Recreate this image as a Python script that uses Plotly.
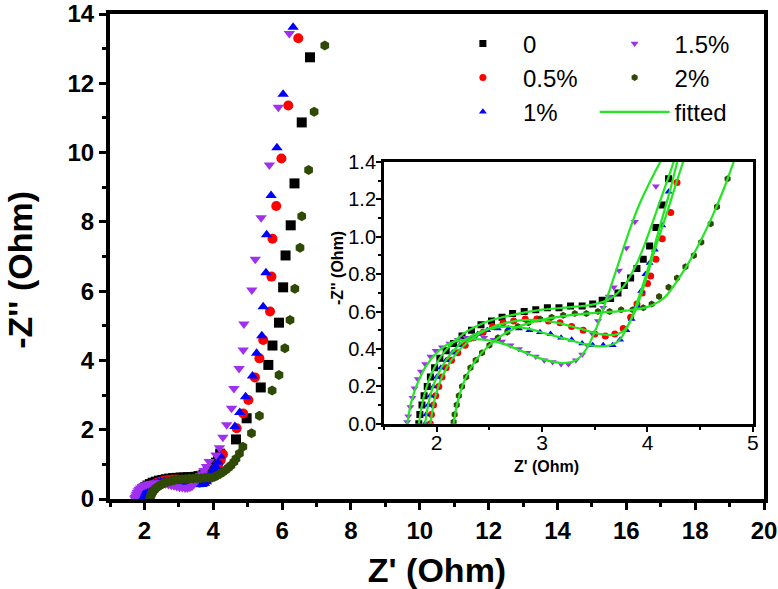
import plotly.graph_objects as go

# ---------------- data (Z' , -Z'' in Ohm) ----------------
labels = ["0", "0.5%", "1%", "1.5%", "2%"]
colors = ["#000000", "#FF0000", "#0000FF", "#A030F0", "#2F4A05"]
symbols = ["square", "circle", "triangle-up", "triangle-down", "hexagon"]

zre_0 = [1.83, 1.84, 1.86, 1.88, 1.91, 1.94, 1.98, 2.03, 2.09, 2.16, 2.24, 2.33, 2.42, 2.52, 2.62,
         2.72, 2.83, 2.94, 3.05, 3.16, 3.27, 3.38, 3.48, 3.57, 3.65, 3.72, 3.78, 3.84, 3.90, 3.96,
         4.02, 4.08, 4.14, 4.20, 4.66, 4.97, 5.38, 5.60, 5.72, 5.91, 6.03, 6.10, 6.25, 6.36, 6.57, 6.81]
zim_0 = [0.00, 0.05, 0.10, 0.15, 0.20, 0.25, 0.30, 0.35, 0.39, 0.43, 0.47, 0.50, 0.53, 0.55, 0.57,
         0.59, 0.60, 0.61, 0.62, 0.62, 0.63, 0.63, 0.64, 0.66, 0.67, 0.70, 0.74, 0.78, 0.83, 0.88,
         0.95, 1.05, 1.17, 1.31, 1.72, 2.33, 3.22, 3.87, 4.43, 5.09, 6.11, 7.03, 7.90, 9.11, 10.87, 12.75]

zre_05 = [1.94, 1.95, 1.97, 1.99, 2.02, 2.05, 2.09, 2.14, 2.20, 2.27, 2.35, 2.44, 2.53, 2.63, 2.73,
          2.84, 2.95, 3.06, 3.17, 3.28, 3.39, 3.50, 3.60, 3.69, 3.77, 3.84, 3.90, 3.95, 4.00, 4.03,
          4.08, 4.14, 4.22, 4.28, 4.68, 4.87, 5.02, 5.21, 5.34, 5.45, 5.65, 5.69, 5.72, 5.83, 5.98, 6.18, 6.47]
zim_05 = [0.00, 0.05, 0.10, 0.15, 0.20, 0.25, 0.30, 0.34, 0.38, 0.42, 0.46, 0.49, 0.52, 0.54, 0.55,
          0.56, 0.56, 0.55, 0.54, 0.52, 0.50, 0.48, 0.47, 0.48, 0.51, 0.57, 0.64, 0.70, 0.75, 0.79,
          0.88, 0.99, 1.13, 1.29, 2.04, 2.47, 2.86, 3.51, 4.06, 4.59, 5.41, 6.42, 7.51, 8.46, 9.83, 11.36, 13.30]

zre_1 = [1.89, 1.90, 1.92, 1.94, 1.97, 2.00, 2.04, 2.09, 2.15, 2.22, 2.30, 2.39, 2.48, 2.58, 2.68,
         2.78, 2.88, 2.98, 3.08, 3.18, 3.28, 3.38, 3.48, 3.58, 3.67, 3.74, 3.80, 3.85, 3.90, 3.94,
         3.98, 4.02, 4.07, 4.14, 4.20, 4.63, 4.77, 4.94, 5.14, 5.26, 5.41, 5.45, 5.53, 5.55, 5.68,
         5.85, 6.03, 6.32]
zim_1 = [0.00, 0.05, 0.10, 0.15, 0.20, 0.25, 0.30, 0.34, 0.38, 0.42, 0.45, 0.48, 0.50, 0.51, 0.51,
         0.51, 0.50, 0.49, 0.48, 0.46, 0.45, 0.43, 0.42, 0.42, 0.42, 0.45, 0.50, 0.56, 0.63, 0.71,
         0.80, 0.86, 0.93, 1.06, 1.24, 2.09, 2.50, 2.95, 3.55, 4.21, 4.71, 5.55, 6.53, 7.63, 8.76,
         10.14, 11.68, 13.62]

zre_15 = [1.72, 1.73, 1.75, 1.77, 1.79, 1.82, 1.85, 1.89, 1.94, 1.99, 2.05, 2.12, 2.20, 2.28, 2.36,
          2.45, 2.54, 2.62, 2.70, 2.78, 2.86, 2.94, 3.02, 3.10, 3.18, 3.25, 3.32, 3.38, 3.43, 3.48,
          3.53, 3.58, 3.63, 3.68, 3.73, 3.80, 3.88, 4.08, 4.18, 4.28, 4.39, 4.53, 4.60, 4.75, 4.87,
          4.89, 5.12, 5.22, 5.39, 5.63, 5.89, 6.21]
zim_15 = [0.01, 0.04, 0.09, 0.14, 0.19, 0.24, 0.28, 0.32, 0.36, 0.39, 0.41, 0.43, 0.45, 0.46, 0.46,
          0.46, 0.45, 0.44, 0.42, 0.40, 0.38, 0.36, 0.34, 0.33, 0.32, 0.32, 0.34, 0.37, 0.42, 0.48,
          0.55, 0.62, 0.68, 0.73, 0.82, 0.94, 1.08, 1.27, 1.48, 1.78, 2.14, 2.62, 3.19, 3.77, 4.30,
          5.05, 6.03, 6.92, 8.12, 9.64, 11.31, 13.44]

zre_2 = [2.16, 2.17, 2.19, 2.21, 2.24, 2.28, 2.32, 2.37, 2.43, 2.50, 2.58, 2.67, 2.77, 2.87, 2.98,
         3.09, 3.20, 3.31, 3.42, 3.53, 3.64, 3.75, 3.86, 3.96, 4.04, 4.11, 4.20, 4.28, 4.36, 4.44,
         4.51, 4.60, 4.66, 4.76, 4.86, 5.11, 5.34, 5.71, 5.91, 6.08, 6.23, 6.37, 6.52, 6.57, 6.77,
         6.93, 7.24]
zim_2 = [0.01, 0.05, 0.10, 0.15, 0.20, 0.25, 0.30, 0.34, 0.38, 0.42, 0.46, 0.49, 0.52, 0.54, 0.56,
         0.57, 0.58, 0.59, 0.59, 0.60, 0.60, 0.61, 0.61, 0.62, 0.64, 0.68, 0.73, 0.78, 0.84, 0.90,
         0.97, 1.07, 1.16, 1.31, 1.51, 1.90, 2.40, 3.13, 3.58, 4.35, 5.17, 6.07, 7.25, 8.16, 9.50,
         11.18, 13.09]

# fitted curves (inset)
fit_zre_0 = [1.83, 1.88, 1.96, 2.08, 2.25, 2.45, 2.70, 3.00, 3.30, 3.50, 3.65, 3.78, 3.90, 4.00, 4.10, 4.20, 4.26]
fit_zim_0 = [0.00, 0.15, 0.28, 0.39, 0.48, 0.54, 0.58, 0.61, 0.625, 0.64, 0.67, 0.74, 0.86, 1.00, 1.16, 1.32, 1.42]
fit_zre_05 = [1.94, 1.98, 2.05, 2.15, 2.30, 2.50, 2.75, 2.95, 3.15, 3.35, 3.55, 3.68, 3.78, 3.88, 3.98, 4.08, 4.18, 4.28, 4.35]
fit_zim_05 = [0.00, 0.13, 0.25, 0.35, 0.44, 0.51, 0.55, 0.555, 0.54, 0.51, 0.48, 0.475, 0.50, 0.60, 0.76, 0.95, 1.12, 1.30, 1.42]
fit_zre_1 = [1.89, 1.93, 2.00, 2.10, 2.25, 2.45, 2.65, 2.85, 3.05, 3.25, 3.45, 3.60, 3.72, 3.82, 3.92, 4.02, 4.12, 4.22, 4.29]
fit_zim_1 = [0.00, 0.13, 0.25, 0.35, 0.44, 0.50, 0.52, 0.51, 0.48, 0.45, 0.42, 0.415, 0.44, 0.53, 0.68, 0.86, 1.06, 1.26, 1.42]
fit_zre_15 = [1.72, 1.76, 1.82, 1.90, 2.00, 2.12, 2.28, 2.45, 2.62, 2.80, 2.98, 3.12, 3.22, 3.32, 3.42, 3.52, 3.62, 3.72, 3.82, 3.92, 4.02, 4.14]
fit_zim_15 = [0.00, 0.12, 0.22, 0.31, 0.38, 0.43, 0.45, 0.45, 0.43, 0.39, 0.35, 0.33, 0.325, 0.34, 0.40, 0.52, 0.68, 0.85, 1.02, 1.17, 1.29, 1.42]
fit_zre_2 = [2.16, 2.20, 2.27, 2.37, 2.50, 2.70, 2.95, 3.25, 3.55, 3.80, 4.00, 4.15, 4.30, 4.45, 4.60, 4.72, 4.83]
fit_zim_2 = [0.00, 0.12, 0.24, 0.34, 0.42, 0.50, 0.55, 0.58, 0.595, 0.605, 0.625, 0.67, 0.78, 0.92, 1.09, 1.25, 1.42]

zre = [zre_0, zre_05, zre_1, zre_15, zre_2]
zim = [zim_0, zim_05, zim_1, zim_15, zim_2]
fit_zre = [fit_zre_0, fit_zre_05, fit_zre_1, fit_zre_15, fit_zre_2]
fit_zim = [fit_zim_0, fit_zim_05, fit_zim_1, fit_zim_15, fit_zim_2]

main_xticks = [2, 4, 6, 8, 10, 12, 14, 16, 18, 20]
main_yticks = [0, 2, 4, 6, 8, 10, 12, 14]
inset_xticks = [2, 3, 4, 5]
inset_yticks = [0.0, 0.2, 0.4, 0.6, 0.8, 1.0, 1.2, 1.4]

FONT = "Liberation Sans, Arial, Helvetica, sans-serif"
FIT_COLOR = "#22E622"

fig = go.Figure()

# main plot markers
for i in range(5):
    fig.add_trace(go.Scatter(
        x=zre[i], y=zim[i], mode="markers", xaxis="x", yaxis="y",
        marker=dict(symbol=symbols[i], size=10, color=colors[i], line=dict(width=0)),
        showlegend=False, name=labels[i]))

# inset markers (carry the legend)
for i in range(5):
    fig.add_trace(go.Scatter(
        x=zre[i], y=zim[i], mode="markers", xaxis="x2", yaxis="y2",
        marker=dict(symbol=symbols[i], size=7, color=colors[i], line=dict(width=0)),
        name=labels[i], showlegend=True,
        legend="legend" if i < 3 else "legend2"))

# fitted curves in inset
for i in range(5):
    fig.add_trace(go.Scatter(
        x=fit_zre[i], y=fit_zim[i], mode="lines", xaxis="x2", yaxis="y2",
        line=dict(color=FIT_COLOR, width=2.2, shape="spline", smoothing=1.0),
        name="fitted", legendgroup="fitted", showlegend=(i == 0), legend="legend2"))

axis_common = dict(showline=True, linecolor="black", mirror=True, showgrid=False,
                   zeroline=False, ticks="outside", tickcolor="black", automargin=False,
                   ticklabeloverflow="allow")

fig.update_layout(
    width=778, height=589,
    margin=dict(l=110, r=14, t=14, b=90),
    paper_bgcolor="white", plot_bgcolor="white",
    font=dict(family=FONT, color="black"),
    xaxis=dict(**axis_common, domain=[0, 1], range=[1, 20], tickvals=main_xticks,
               linewidth=4, ticklen=7, tickwidth=3,
               minor=dict(dtick=1, tick0=0, ticklen=4, tickwidth=3, ticks="outside", tickcolor="black"),
               tickfont=dict(size=24, family=FONT, weight="bold"),
               title=dict(text="Z' (Ohm)", font=dict(size=34, family=FONT, weight="bold"), standoff=16)),
    yaxis=dict(**axis_common, domain=[0, 1], range=[0, 14], tickvals=main_yticks,
               linewidth=4, ticklen=7, tickwidth=3,
               minor=dict(dtick=1, tick0=0, ticklen=4, tickwidth=3, ticks="outside", tickcolor="black"),
               tickfont=dict(size=24, family=FONT, weight="bold")),
    xaxis2=dict(**axis_common, domain=[0.419, 0.983], range=[1.5, 5], tickvals=inset_xticks,
                anchor="y2", linewidth=3, ticklen=5, tickwidth=2, ticklabelstandoff=-7,
                minor=dict(dtick=0.5, tick0=0, ticklen=3, tickwidth=2, ticks="outside", tickcolor="black"),
                tickfont=dict(size=21, family=FONT)),
    yaxis2=dict(**axis_common, domain=[0.155, 0.695], range=[0, 1.4], tickvals=inset_yticks,
                tickformat=".1f", anchor="x2", linewidth=3, ticklen=5, tickwidth=2, ticklabelstandoff=-4,
                minor=dict(dtick=0.1, tick0=0, ticklen=3, tickwidth=2, ticks="outside", tickcolor="black"),
                tickfont=dict(size=20, family=FONT)),
    legend=dict(x=0.509, y=0.985, xanchor="left", yanchor="top", bgcolor="rgba(0,0,0,0)",
                font=dict(size=24, family=FONT), itemwidth=70, tracegroupgap=0),
    legend2=dict(x=0.741, y=0.985, xanchor="left", yanchor="top", bgcolor="rgba(0,0,0,0)",
                 font=dict(size=24, family=FONT), itemwidth=70, tracegroupgap=0),
    annotations=[
        dict(text="-Z'' (Ohm)", xref="paper", yref="paper", x=-0.138, y=0.472,
             xanchor="center", yanchor="middle", showarrow=False, textangle=-90,
             font=dict(size=34, family=FONT, weight="bold")),
        dict(text="Z' (Ohm)", xref="paper", yref="paper", x=0.668, y=0.068,
             xanchor="center", yanchor="middle", showarrow=False,
             font=dict(size=16, family=FONT, weight="bold")),
        dict(text="-Z'' (Ohm)", xref="paper", yref="paper", x=0.347, y=0.476,
             xanchor="center", yanchor="middle", showarrow=False, textangle=-90,
             font=dict(size=16, family=FONT, weight="bold")),
    ],
)

# remove the browser's default 8px page margin so the 778x589 figure fills the window
fig.write_html("out.html", config={"displayModeBar": False},
               post_script="document.body.style.margin='0px';")
